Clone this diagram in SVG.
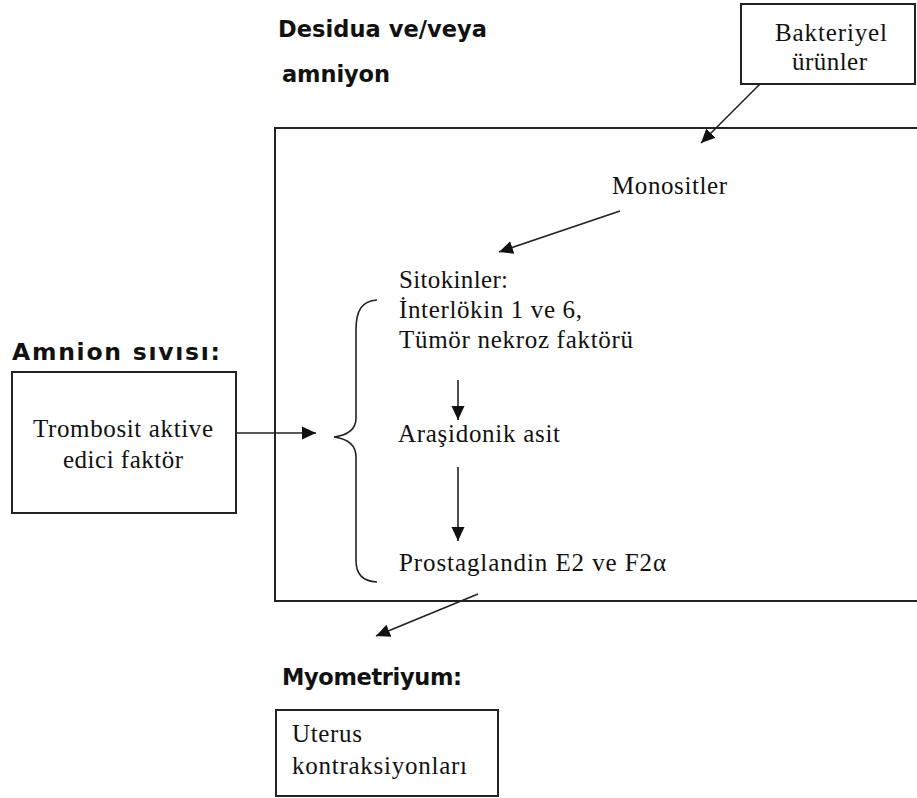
<svg xmlns="http://www.w3.org/2000/svg" width="917" height="798" viewBox="0 0 917 798">
<defs>
<style>
.box{fill:#fff;stroke:#222;stroke-width:2}
.ln{fill:none;stroke:#222;stroke-width:1.6}
.sr{font-family:"Liberation Serif","Times New Roman",serif;font-size:25px;fill:#111}
.sb{font-family:"DejaVu Sans",Verdana,sans-serif;font-weight:bold;font-size:22.5px;fill:#111}
</style>
<marker id="ah" markerUnits="userSpaceOnUse" markerWidth="16" markerHeight="14" refX="14" refY="7" orient="auto">
<path d="M0,0.5 L14,7 L0,13.5 Z" fill="#111"/>
</marker>
</defs>
<rect width="917" height="798" fill="#fff"/>
<g id="desidua">
<rect class="box" x="275" y="128" width="700" height="473"/>
<text class="sb" x="278" y="37" textLength="209">Desidua ve/veya</text>
<text class="sb" x="282" y="82" textLength="108">amniyon</text>
</g>
<g id="bakteriyel">
<rect class="box" x="741" y="4" width="174" height="80"/>
<text class="sr" x="775" y="41" textLength="112">Bakteriyel</text>
<text class="sr" x="792" y="70" textLength="75">ürünler</text>
</g>
<g id="monositler">
<text class="sr" x="612" y="194" textLength="115">Monositler</text>
</g>
<g id="sitokinler">
<text class="sr" x="399" y="288" textLength="109">Sitokinler:</text>
<text class="sr" x="399" y="318" textLength="183">İnterlökin 1 ve 6,</text>
<text class="sr" x="399" y="348" textLength="234">Tümör nekroz faktörü</text>
</g>
<g id="arasidonik">
<text class="sr" x="398" y="442" textLength="162">Araşidonik asit</text>
</g>
<g id="prostaglandin">
<text class="sr" x="399" y="571" textLength="267">Prostaglandin E2 ve F2α</text>
</g>
<g id="amnion">
<text class="sb" x="12" y="360" textLength="208" style="font-size:23.5px">Amnion sıvısı:</text>
<rect class="box" x="12" y="372" width="224" height="141"/>
<text class="sr" x="33" y="437" textLength="180">Trombosit aktive</text>
<text class="sr" x="63" y="468" textLength="120">edici faktör</text>
</g>
<g id="myometriyum">
<text class="sb" x="282" y="685" textLength="180">Myometriyum:</text>
<rect class="box" x="276" y="710" width="222" height="86"/>
<text class="sr" x="292" y="742" textLength="70">Uterus</text>
<text class="sr" x="292" y="774" textLength="175">kontraksiyonları</text>
</g>
<g id="connectors">
<line class="ln" x1="760" y1="84" x2="701" y2="143" marker-end="url(#ah)"/>
<line class="ln" x1="620" y1="211" x2="499" y2="252" marker-end="url(#ah)"/>
<line class="ln" x1="458" y1="380" x2="458" y2="420" marker-end="url(#ah)"/>
<line class="ln" x1="458" y1="467" x2="458" y2="541" marker-end="url(#ah)"/>
<line class="ln" x1="236" y1="433" x2="316" y2="433" marker-end="url(#ah)"/>
<line class="ln" x1="478" y1="594" x2="376" y2="636" marker-end="url(#ah)"/>
<path class="ln" d="M377,300 C362,301 356,310 356,330 L356,418 C356,429 349,435 334,437 C349,439 356,446 356,457 L356,560 C356,574 362,581 377,582"/>
</g>
</svg>
